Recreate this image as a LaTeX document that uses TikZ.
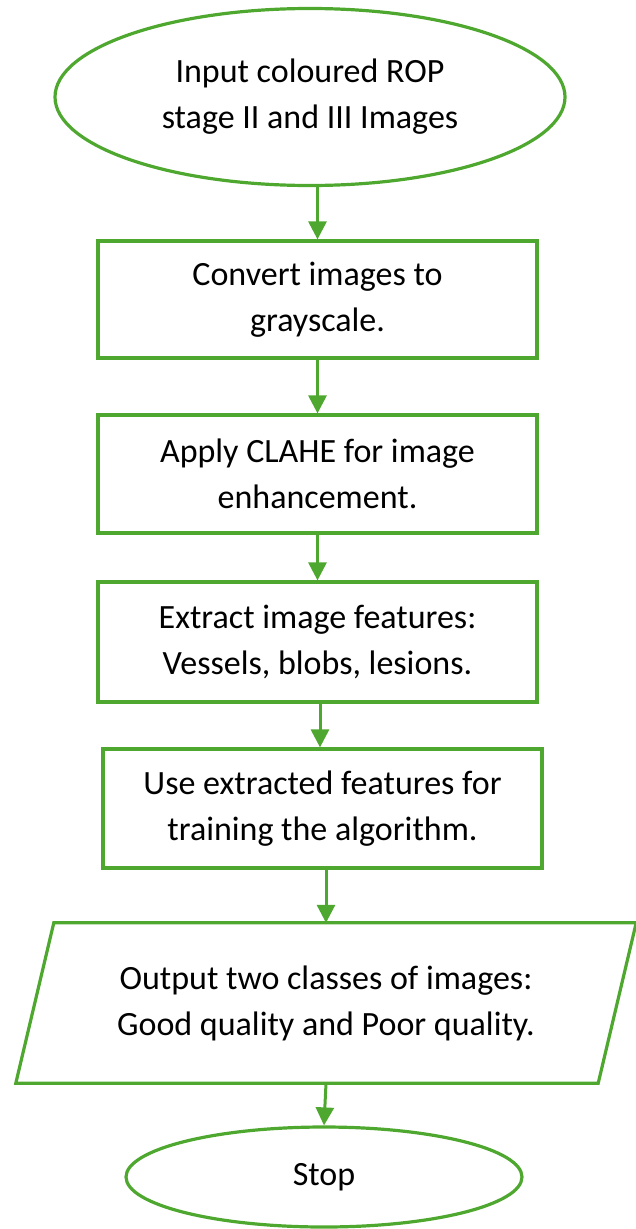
\documentclass[tikz,border=0pt]{standalone}
\usepackage{fontspec}
\setmainfont{Carlito}
\usetikzlibrary{shapes.geometric,arrows.meta,calc}
\definecolor{flowgreen}{HTML}{4EA72E}
\begin{document}
\begin{tikzpicture}[x=1pt,y=-1pt,
  every node/.style={font=\fontsize{34}{46}\selectfont, text=black, align=center, inner sep=0pt},
  term/.style={draw=flowgreen, line width=3.2pt, ellipse},
  proc/.style={draw=flowgreen, line width=3.2pt, rectangle, minimum width=439pt},
  outline/.style={draw=flowgreen, line width=3.2pt},
  arr/.style={draw=flowgreen, line width=3pt, -{Triangle[length=18pt,width=18pt]}},
  ]
\useasboundingbox (0,0) rectangle (635,1229);
\node[term, minimum width=510pt, minimum height=177pt] (start) at (310,97) {Input coloured ROP\\stage II and III Images};
\node[proc, minimum height=117pt] (b1) at (317.5,299.5) {Convert images to\\grayscale.};
\node[proc, minimum height=118pt] (b2) at (317.5,474) {Apply CLAHE for image\\enhancement.};
\node[proc, minimum height=120pt] (b3) at (317.5,642) {Extract image features:\\Vessels, blobs, lesions.};
\node[proc, minimum height=119pt] (b4) at (322.5,808.5) {Use extracted features for\\training the algorithm.};
\node[minimum width=582pt, minimum height=160pt] (out) at (326,1003) {Output two classes of images:\\Good quality and Poor quality.};
\draw[outline] ([xshift=19pt]out.north west) -- ([xshift=19pt]out.north east) -- ([xshift=-19pt]out.south east) -- ([xshift=-19pt]out.south west) -- cycle;
\node[term, minimum width=396pt, minimum height=100pt] (stop) at (324,1177) {Stop};
\draw[arr] (b1.north |- start.south) -- (b1.north);
\draw[arr] (b1.south) -- (b2.north);
\draw[arr] (b2.south) -- (b3.north);
\draw[arr] ([xshift=2.5pt]b3.south) -- ([xshift=-2.5pt]b4.north);
\draw[arr] (b4.south -| out.north) -- (out.north);
\draw[arr] (out.south) -- (stop.north);
\end{tikzpicture}
\end{document}
